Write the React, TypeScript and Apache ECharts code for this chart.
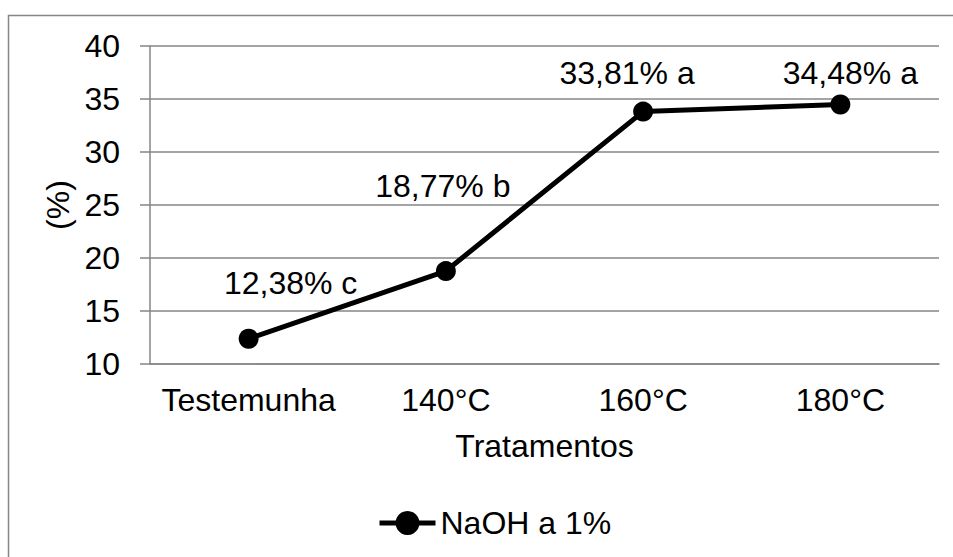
import React, { useEffect, useRef } from "react";
import * as echarts from "echarts";

const categories = ["Testemunha", "140°C", "160°C", "180°C"];
const values = [12.38, 18.77, 33.81, 34.48];
const pointLabels = ["12,38% c", "18,77% b", "33,81% a", "34,48% a"];
const labelOffsets: [number, number][] = [
  [42, -56],
  [-3, -85],
  [-16, -39],
  [10, -32],
];
const seriesName = "NaOH a 1%";
const yTicks = { min: 10, max: 40, interval: 5 };

const FONT = "'Liberation Sans', Arial, sans-serif";
const GRAY = "#868686";
const FS = 32;

export default function App() {
  const ref = useRef<HTMLDivElement>(null);
  useEffect(() => {
    if (!ref.current) return;
    const chart = echarts.init(ref.current, undefined, { renderer: "svg" });
    chart.setOption({
      animation: false,
      backgroundColor: "#ffffff",
      textStyle: { fontFamily: FONT, color: "#000" },
      grid: { left: 150, right: 14, top: 46, bottom: 193, containLabel: false },
      graphic: [
        {
          type: "polyline",
          silent: true,
          shape: { points: [[8.5, 560], [8.5, 15.5], [960, 15.5]] },
          style: { stroke: GRAY, lineWidth: 1.5, fill: "none" },
        },
      ],
      legend: {
        left: 377,
        top: 507,
        padding: 0,
        itemWidth: 56,
        itemHeight: 30,
        itemGap: 5,
        lineStyle: { width: 5, color: "#000" },
        itemStyle: { color: "#000" },
        textStyle: { fontFamily: FONT, fontSize: FS, color: "#000", padding: [0, 0, 0, 0] },
        data: [seriesName],
      },
      xAxis: {
        type: "category",
        data: categories,
        boundaryGap: true,
        name: "Tratamentos",
        nameLocation: "middle",
        nameGap: 66,
        nameTextStyle: { fontFamily: FONT, fontSize: FS, color: "#000" },
        axisLine: { show: true, lineStyle: { color: GRAY, width: 1.5 } },
        axisTick: { show: false },
        axisLabel: { fontFamily: FONT, fontSize: FS, color: "#000", margin: 20, interval: 0 },
        splitLine: { show: false },
      },
      yAxis: {
        type: "value",
        min: yTicks.min,
        max: yTicks.max,
        interval: yTicks.interval,
        name: "(%)",
        nameLocation: "middle",
        nameGap: 72,
        nameRotate: 90,
        nameTextStyle: { fontFamily: FONT, fontSize: FS, color: "#000" },
        axisLine: { show: true, lineStyle: { color: GRAY, width: 1.5 } },
        axisTick: { show: true, inside: false, length: 10, lineStyle: { color: GRAY, width: 1.5 } },
        axisLabel: { fontFamily: FONT, fontSize: FS, color: "#000", margin: 30 },
        splitLine: { show: true, lineStyle: { color: GRAY, width: 1.5 } },
      },
      series: [
        {
          name: seriesName,
          type: "line",
          data: values.map((v, i) => ({
            value: v,
            label: {
              show: true,
              position: "inside",
              offset: labelOffsets[i],
              formatter: pointLabels[i],
            },
          })),
          symbol: "circle",
          symbolSize: 20,
          itemStyle: { color: "#000" },
          lineStyle: { color: "#000", width: 5 },
          label: {
            show: true,
            fontFamily: FONT,
            fontSize: FS,
            color: "#000",
            textBorderWidth: 0,
          },
        },
      ],
    });
    return () => chart.dispose();
  }, []);
  return (
    <div
      ref={ref}
      style={{ position: "absolute", left: 0, top: 0, width: 953, height: 557 }}
    />
  );
}
